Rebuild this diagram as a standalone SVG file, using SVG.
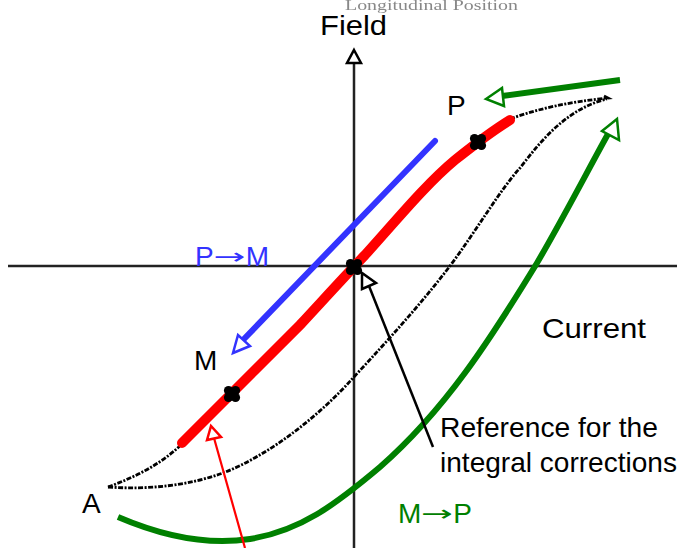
<svg xmlns="http://www.w3.org/2000/svg" width="682" height="548" viewBox="0 0 682 548">
<style>
.t{font-family:"Liberation Sans",Arial,sans-serif;font-size:28px;fill:#000}
.ar{font-family:"DejaVu Sans",sans-serif}
.axis{stroke:#222;stroke-width:2.5;fill:none}
.loop{stroke:#000;stroke-width:2.8;fill:none;stroke-dasharray:5 1.5 2 1.5}
.open{fill:#fff;stroke-width:2.5;stroke-linejoin:miter}
</style>
<defs>
<filter id="blur"><feGaussianBlur stdDeviation="0.7"/></filter>
<g id="dot"><circle cx="-3.5" cy="-3.5" r="4.6"/><circle cx="3.5" cy="-3.5" r="4.6"/><circle cx="-3.5" cy="3.5" r="4.6"/><circle cx="3.5" cy="3.5" r="4.6"/><rect x="-4" y="-4" width="8" height="8"/></g>
</defs>
<rect width="682" height="548" fill="#fff"/>
<text x="345" y="10" font-family="Liberation Serif,serif" font-size="15" fill="#888" filter="url(#blur)" textLength="173" lengthAdjust="spacingAndGlyphs">Longitudinal Position</text>

<g id="axes">
<line class="axis" x1="8" y1="266" x2="677" y2="266"/>
<line class="axis" x1="354" y1="548" x2="354" y2="62"/>
<polygon class="open" stroke="#000" points="354,50 361,63 347,63"/>
</g>

<g id="loop">
<path class="loop" d="M108,487 C150,490 190,485 223,473 C270,455 320,415 353,378 C390,338 420,305 450,266 C478,228 500,190 520,168 C545,135 570,108 607,99"/>
<path class="loop" d="M108,487 C135,477 160,465 182,444"/>
<path class="loop" d="M510,119 C540,108 570,102 608,98 L604,96"/>
</g>

<g id="red-curve">
<path d="M182,443 L300,325 C325,298 345,276 365,255 C395,222 425,185 455,160 C475,144 492,131 510,120" fill="none" stroke="#ff0000" stroke-width="10" stroke-linecap="round"/>
</g>

<g id="points">
<use href="#dot" x="232" y="394"/>
<use href="#dot" x="354" y="267"/>
<use href="#dot" x="478" y="142"/>
</g>

<g id="connectors">
<line x1="435" y1="141" x2="244" y2="339" stroke="#3333ff" stroke-width="6" stroke-linecap="round"/>
<polygon class="open" stroke="#3333ff" stroke-width="3" points="233,353 238,335 250,346"/>
<line x1="620" y1="80" x2="502" y2="96" stroke="#008000" stroke-width="6"/>
<polygon class="open" stroke="#008000" stroke-width="3" points="486,99 502,88 504,106"/>
<path d="M118,517 C160,535 205,546 250,539 C300,531 335,505 380,467 C445,410 490,340 537,263 C565,215 588,170 608,134" fill="none" stroke="#008000" stroke-width="6"/>
<polygon class="open" stroke="#008000" stroke-width="3" points="617,119 602,131 619,140"/>
<line x1="245" y1="548" x2="214" y2="438" stroke="#ff0000" stroke-width="2.2"/>
<polygon class="open" stroke="#ff0000" stroke-width="2" points="211,426 207,440 221,437"/>
<line x1="433" y1="447" x2="369" y2="286" stroke="#000" stroke-width="2.5"/>
<polygon class="open" stroke="#000" stroke-width="2" points="362,273 362,289 376,283"/>
</g>

<g id="labels">
<text class="t" x="320" y="35" font-size="30" textLength="67" lengthAdjust="spacingAndGlyphs">Field</text>
<text class="t" x="542" y="338" textLength="104" lengthAdjust="spacingAndGlyphs">Current</text>
<text class="t" x="447" y="115">P</text>
<text class="t" x="194" y="370">M</text>
<text class="t" x="82" y="513">A</text>
<text class="t" x="195" y="266" style="fill:#3333ff">P<tspan class="ar" font-size="22" dy="-2" textLength="32" lengthAdjust="spacingAndGlyphs">→</tspan><tspan dy="2">M</tspan></text>
<text class="t" x="398" y="523" style="fill:#008000">M<tspan class="ar" font-size="22" dy="-2" textLength="32" lengthAdjust="spacingAndGlyphs">→</tspan><tspan dy="2">P</tspan></text>
<text class="t" x="440" y="437" font-size="24" textLength="218" lengthAdjust="spacingAndGlyphs">Reference for the</text>
<text class="t" x="440" y="472" font-size="24" textLength="237" lengthAdjust="spacingAndGlyphs">integral corrections</text>
</g>
</svg>
